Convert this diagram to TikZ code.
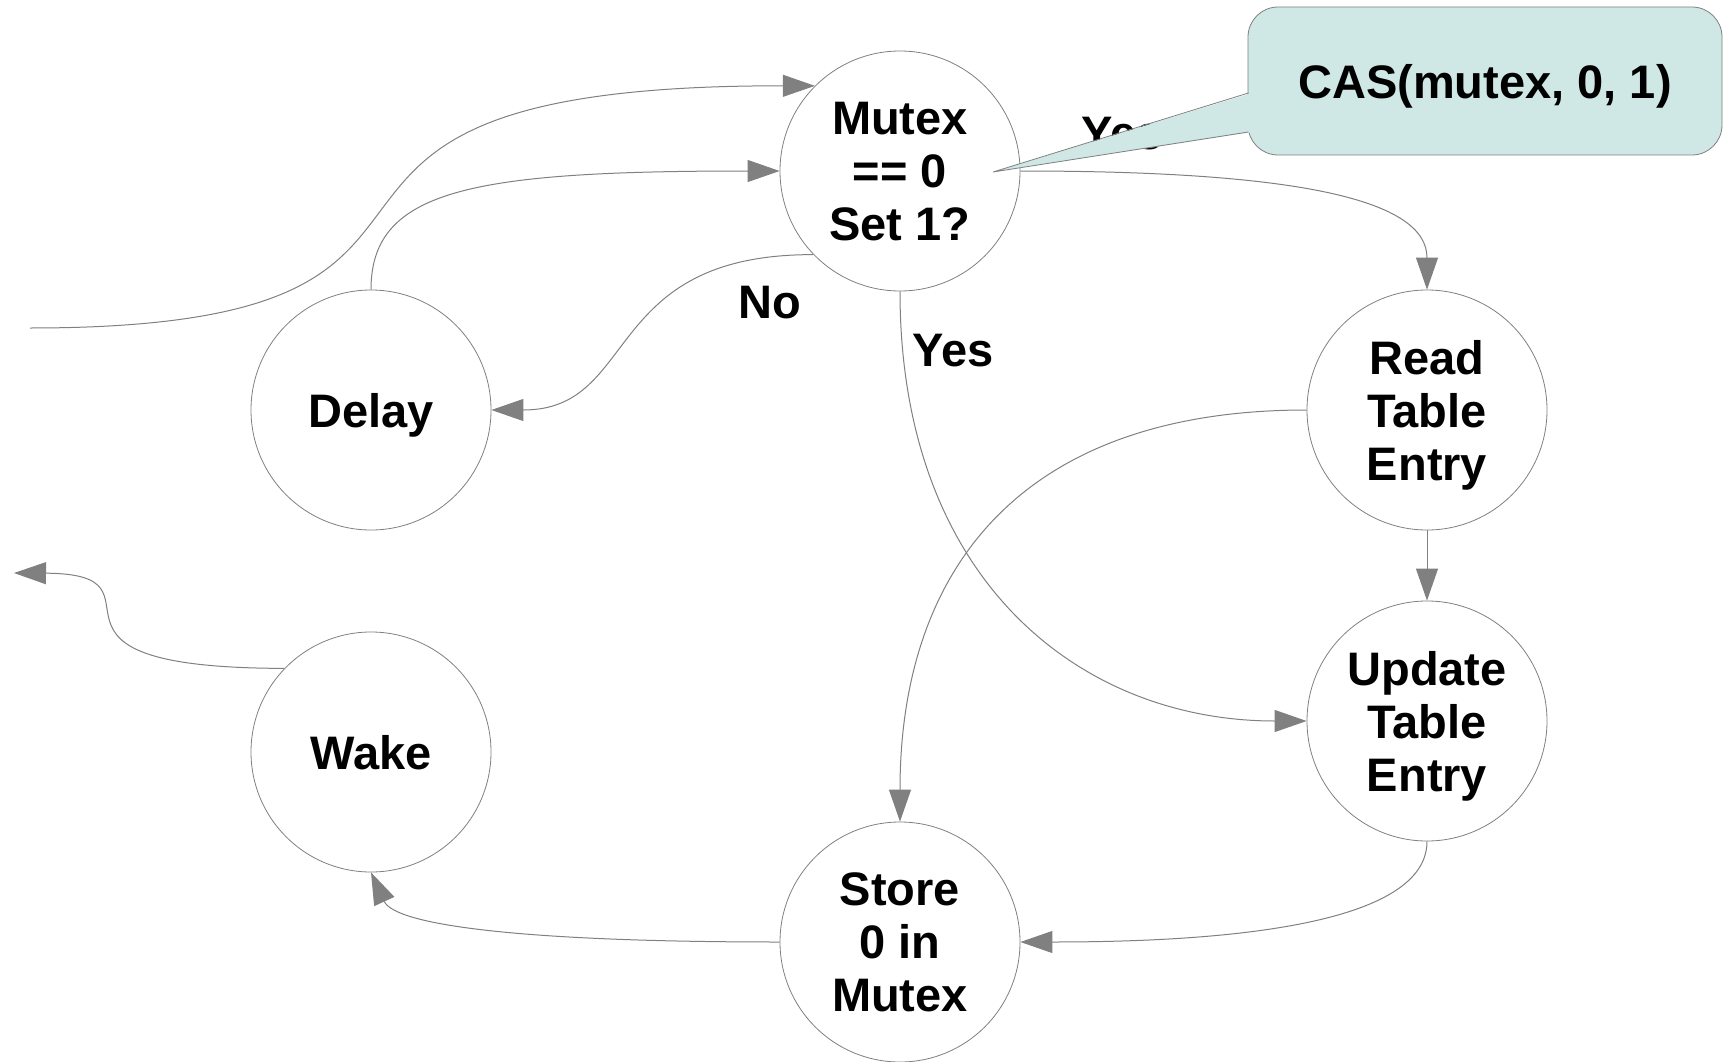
\documentclass[tikz,border=0pt]{standalone}
\usepackage{fontspec}
\setmainfont{Liberation Sans}
\usetikzlibrary{arrows.meta}
\definecolor{edgegray}{RGB}{128,128,128}
\definecolor{calloutfill}{RGB}{207,231,229}
\begin{document}
\begin{tikzpicture}[x=1pt,y=-1pt,
  state/.style={circle, draw=edgegray, line width=0.8pt, fill=white, minimum size=240pt, inner sep=0pt, align=center, text depth=0pt, font=\fontsize{47}{53}\selectfont\bfseries},
  conn/.style={draw=edgegray, line width=1pt, -{Triangle[length=32pt,width=22pt]}},
  lbl/.style={font=\fontsize{47}{53}\selectfont\bfseries, inner sep=0pt}]
\useasboundingbox (0,0) rectangle (1727,1062);

\node[state] (mutex) at (900,171) {Mutex\\== 0\\Set 1?};
\node[state] (delay) at (371,410) {Delay};
\node[state] (wake) at (371,752) {Wake};
\node[state] (store) at (900,942) {Store\\0 in\\Mutex};
\node[state] (read) at (1427,410) {Read\\Table\\Entry};
\node[state] (update) at (1427,721) {Update\\Table\\Entry};

\coordinate (in0) at (30,328);
\coordinate (out0) at (14,573);

\draw[conn] (in0) .. controls (570,328) and (182,85) .. (mutex.135);
\draw[conn] (delay.north) .. controls (371,190) and (470,171) .. (mutex.west);
\draw[conn] (mutex.224) .. controls (600,254) and (640,410) .. (delay.east);
\draw[conn] (mutex.east) .. controls (1300,171) and (1427,200) .. (read.north);
\draw[conn] (mutex.south) .. controls (900,580) and (1080,721) .. (update.west);
\draw[conn] (read.west) .. controls (1020,410) and (900,570) .. (store.north);
\draw[conn] (read.south) -- (update.north);
\draw[conn] (update.south) .. controls (1427,930) and (1200,942) .. (store.east);
\draw[conn] (store.west) .. controls (520,942) and (395,925) .. (wake.south);
\draw[conn] (wake.136) .. controls (0,668) and (182,574) .. (out0);

\node[lbl] (nolbl) at (770,303) {No};
\node[lbl] (yeslbl) at (953,351) {Yes};
\node[lbl] (yeshidden) at (1122,134) {Yes};

\node[draw=edgegray, fill=calloutfill, rounded corners=30pt, minimum width=474pt, minimum height=148pt, inner sep=0pt, line width=0.8pt, text depth=0pt, font=\fontsize{47}{53}\selectfont\bfseries] (cas) at (1485,81) {CAS(mutex, 0, 1)};
\coordinate (castip) at (993,172);
\fill[calloutfill] (1252,93) -- (castip) -- (1252,132) -- cycle;
\draw[edgegray, line width=0.8pt] (1248.4,93) -- (castip) -- (1248.4,132);
\end{tikzpicture}
\end{document}
